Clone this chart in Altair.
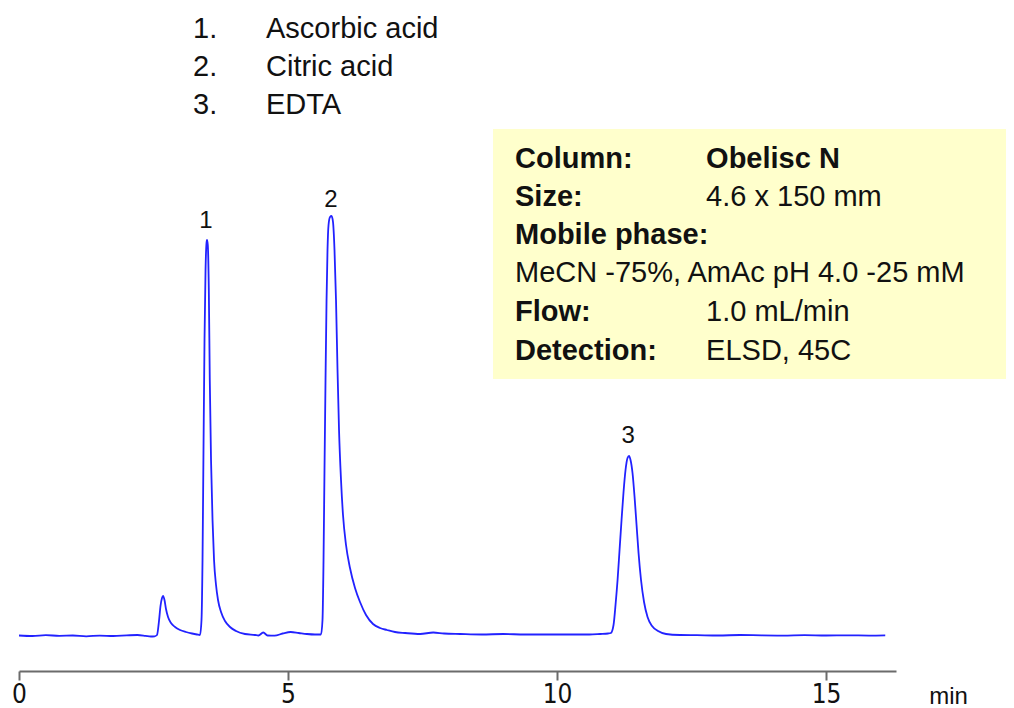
import altair as alt
import pandas as pd

# ---------------- data ----------------
time_min = [0.00, 0.25, 0.50, 0.75, 1.00, 1.25, 1.50, 1.75, 2.00, 2.20, 2.35, 2.45, 2.52,
            2.565, 2.602, 2.630, 2.658, 2.677, 2.704, 2.732, 2.770, 2.825, 2.900, 2.993, 3.104, 3.216, 3.309,
            3.364, 3.392, 3.411, 3.429, 3.448, 3.467, 3.485, 3.494, 3.509, 3.528, 3.546, 3.569, 3.597, 3.625,
            3.662, 3.699, 3.755, 3.829, 3.922, 4.033, 4.200, 4.387,
            4.45, 4.54, 4.62, 4.75, 4.90, 5.05, 5.20, 5.35, 5.50,
            5.613, 5.641, 5.660, 5.678, 5.697, 5.716, 5.734, 5.753, 5.781, 5.809, 5.836, 5.864, 5.892, 5.920,
            5.948, 5.985, 6.022, 6.078, 6.152, 6.245, 6.338, 6.450, 6.580, 6.710, 6.840, 6.989, 7.175, 7.454,
            7.70, 7.90, 8.20, 8.60, 9.00, 9.40, 9.80, 10.20, 10.60, 10.80, 10.95,
            11.00, 11.05, 11.087, 11.125, 11.162, 11.199, 11.236, 11.273, 11.310, 11.338, 11.366, 11.403,
            11.441, 11.478, 11.515, 11.561, 11.617, 11.682, 11.766, 11.877, 12.026, 12.286,
            12.60, 13.00, 13.40, 13.80, 14.20, 14.60, 15.00, 15.40, 15.80, 16.10]

signal = [0.5, 0.0, 0.8, 0.2, 0.5, -0.3, 0.4, 0.0, 0.6, 1.0, 0.2, -0.5, -0.3,
          1, 15, 30, 38, 40, 36, 27, 19, 13, 9, 6, 4, 2.5, 1.5,
          1, 16, 76, 186, 296, 366, 393, 396, 391, 346, 256, 176, 116, 76,
          51, 36, 24, 15, 9, 5, 2, 1,
          0.5, 3.5, 0.5, 0.3, 2.5, 4, 3, 2, 1.5,
          1.5, 16, 76, 166, 256, 336, 386, 411, 419, 420, 414, 386, 336, 266,
          206, 156, 121, 91, 68, 48, 34, 21, 12, 8, 6, 4, 3, 2,
          3.5, 2.5, 2, 1.5, 2, 1.5, 1.5, 1.5, 1.5, 2, 2.5,
          3, 11, 31, 56, 86, 116, 144, 166, 178, 180, 176, 163,
          139, 111, 83, 56, 34, 19, 10, 5, 2, 1,
          0.8, 0.5, 1, 0.6, 0.4, 0.9, 0.5, 0.7, 0.4, 0.6]

peak_labels = ["1", "2", "3"]
peak_times = [3.476, 5.799, 11.32]
peak_label_levels = [408, 429, 193]

legend_numbers = ["1.", "2.", "3."]
compounds = ["Ascorbic acid", "Citric acid", "EDTA"]

cond_keys = ["Column:", "Size:", "Mobile phase:", "Flow:", "Detection:"]
cond_key_rows = [0, 1, 2, 4, 5]
cond_vals = ["Obelisc N", "4.6 x 150 mm", "1.0 mL/min", "ELSD, 45C"]
cond_val_rows = [0, 1, 4, 5]
cond_val_bold = [True, False, False, False]
mobile_phase = "MeCN -75%, AmAc pH 4.0 -25 mM"
mobile_phase_row = 3

# ---------------- layout (annotation placement in data units) ----------------
X_DOM = [0, 16.3]
Y_DOM = [-35, 626]
legend_num_x = 3.234
legend_name_x = 4.591
legend_y = [598, 560, 522]
box_x = [8.81, 18.6]
box_y = [257, 507]
cond_key_x = 9.219
cond_val_x = 12.77
cond_row_y = [468, 430, 392, 354, 315, 276]

FONT = "Liberation Sans, Arial, sans-serif"
NARROW = "Liberation Sans Narrow, DejaVu Sans Condensed, Arial Narrow, sans-serif"
TXT = "#111111"

xs = alt.Scale(domain=X_DOM, nice=False, zero=False)
ys = alt.Scale(domain=Y_DOM, nice=False, zero=False)

x_axis = alt.Axis(
    values=[0, 5, 10, 15], format="d", grid=False, labelFlush=False,
    domainColor="#6b6b6b", domainWidth=2, tickColor="#6b6b6b", tickWidth=2, tickSize=9,
    labelFont=NARROW, labelFontSize=26, labelColor=TXT, labelPadding=1,
    title="min", titleX=929, titleY=32, titleAlign="center", titleBaseline="alphabetic",
    titleFont=FONT, titleFontSize=24, titleFontWeight="normal", titleColor=TXT)


def X(field):
    return alt.X(field, type="quantitative", scale=xs, axis=x_axis, title="min")


def Y(field):
    return alt.Y(field, type="quantitative", scale=ys, axis=None)


trace = pd.DataFrame({"t": time_min, "s": signal})

line = alt.Chart(trace).mark_line(color="#2222ff", strokeWidth=1.8, interpolate="monotone").encode(
    x=X("t"), y=Y("s"),
)

box_df = pd.DataFrame({"t": [box_x[0]], "t2": [box_x[1]], "s": [box_y[0]], "s2": [box_y[1]]})
box = alt.Chart(box_df).mark_rect(color="#ffffcc").encode(
    x=X("t"), x2="t2:Q", y=Y("s"), y2="s2:Q",
)


def text_layer(df, size, weight="normal", align="left"):
    return alt.Chart(df).mark_text(
        font=FONT, fontSize=size, fontWeight=weight, align=align,
        baseline="alphabetic", color=TXT,
    ).encode(x=X("t"), y=Y("s"), text="label:N")


def tdf(xv, yv, labels):
    return pd.DataFrame({"t": xv, "s": yv, "label": labels})


peaks_df = tdf(peak_times, peak_label_levels, peak_labels)
leg_num_df = tdf([legend_num_x] * 3, legend_y, legend_numbers)
leg_name_df = tdf([legend_name_x] * 3, legend_y, compounds)
key_df = tdf([cond_key_x] * len(cond_keys), [cond_row_y[r] for r in cond_key_rows], cond_keys)
val_bold_df = tdf([cond_val_x for b in cond_val_bold if b],
                  [cond_row_y[r] for r, b in zip(cond_val_rows, cond_val_bold) if b],
                  [v for v, b in zip(cond_vals, cond_val_bold) if b])
val_df = tdf([cond_val_x for b in cond_val_bold if not b],
             [cond_row_y[r] for r, b in zip(cond_val_rows, cond_val_bold) if not b],
             [v for v, b in zip(cond_vals, cond_val_bold) if not b])
mp_df = tdf([cond_key_x], [cond_row_y[mobile_phase_row]], [mobile_phase])

chart = alt.layer(
    box,
    line,
    text_layer(peaks_df, 24, align="center"),
    text_layer(leg_num_df, 29),
    text_layer(leg_name_df, 29),
    text_layer(key_df, 29, weight="bold"),
    text_layer(val_bold_df, 29, weight="bold"),
    text_layer(val_df, 29),
    text_layer(mp_df, 29),
).properties(
    width=877, height=661,
    autosize=alt.AutoSizeParams(type="none"),
    padding={"left": 11, "top": 2, "right": 110, "bottom": 37},
    background="white",
).configure_view(stroke=None)

chart.save("out.html", embed_options={"renderer": "svg", "actions": False})
